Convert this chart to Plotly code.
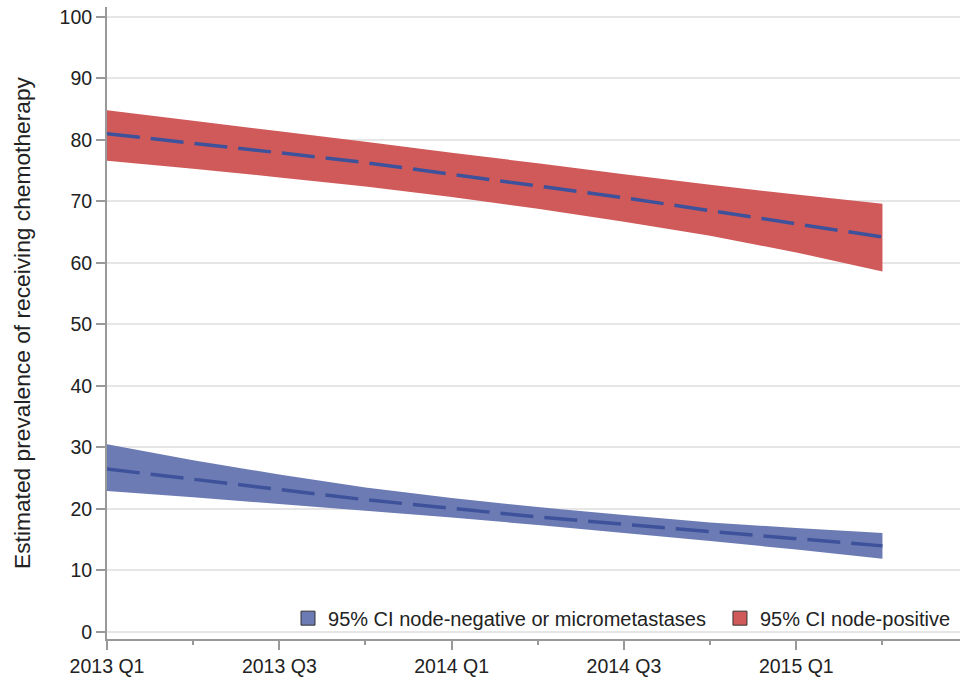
import plotly.graph_objects as go

# quarter index 0 = 2013 Q1 ... 9 = 2015 Q2
quarters = [0, 1, 2, 3, 4, 5, 6, 7, 8, 9]
tick_vals = [0, 2, 4, 6, 8]
tick_labels = ["2013 Q1", "2013 Q3", "2014 Q1", "2014 Q3", "2015 Q1"]

pos_upper = [84.8, 83.1, 81.4, 79.7, 77.9, 76.2, 74.4, 72.7, 71.1, 69.6]
pos_center = [81.0, 79.5, 77.9, 76.3, 74.4, 72.5, 70.6, 68.5, 66.4, 64.2]
pos_lower = [76.6, 75.3, 73.9, 72.4, 70.7, 68.8, 66.7, 64.4, 61.7, 58.6]

neg_upper = [30.5, 27.9, 25.6, 23.5, 21.8, 20.3, 19.0, 17.8, 16.9, 16.1]
neg_center = [26.5, 24.8, 23.1, 21.5, 20.1, 18.7, 17.5, 16.3, 15.1, 14.0]
neg_lower = [22.9, 21.9, 20.8, 19.7, 18.6, 17.4, 16.1, 14.8, 13.4, 11.9]

legend_names = ["95% CI node-negative or micrometastases", "95% CI node-positive"]
y_title = "Estimated prevalence of receiving chemotherapy"

RED = "rgb(208,90,90)"
BLUE = "rgb(108,123,179)"
LINE = "rgb(61,82,155)"
FONT = "Liberation Sans, Arial, sans-serif"

fig = go.Figure()

def band(upper, lower, color):
    return go.Scatter(
        x=quarters + quarters[::-1],
        y=upper + lower[::-1],
        fill="toself", fillcolor=color, mode="none",
        showlegend=False, hoverinfo="skip",
    )

fig.add_trace(band(pos_upper, pos_lower, RED))
fig.add_trace(band(neg_upper, neg_lower, BLUE))

for c in (pos_center, neg_center):
    fig.add_trace(go.Scatter(
        x=quarters, y=c, mode="lines",
        line=dict(color=LINE, width=3.5, dash="33px,11px"),
        showlegend=False, hoverinfo="skip",
    ))

for name, color, lg in zip(legend_names, (BLUE, RED), ("legend", "legend2")):
    fig.add_trace(go.Scatter(
        x=[None], y=[None], mode="markers", name=name, legend=lg,
        marker=dict(symbol="square", size=14, color=color,
                    line=dict(color="#333", width=1)),
    ))

legend_style = dict(
    orientation="h", y=0.033, yanchor="middle", xanchor="left",
    bgcolor="rgba(0,0,0,0)", font=dict(size=20, color="#222"),
    itemclick=False,
)

fig.update_layout(
    width=960, height=681,
    margin=dict(l=107, r=0, t=7, b=42),
    paper_bgcolor="white", plot_bgcolor="white",
    font=dict(family=FONT, size=19.5, color="#222"),
    legend=dict(x=0.2122, **legend_style),
    legend2=dict(x=0.7186, **legend_style),
)

fig.update_xaxes(
    range=[0, 9.9], tickmode="array", tickvals=tick_vals, ticktext=tick_labels,
    showline=True, linecolor="#999", linewidth=2,
    ticks="outside", ticklen=9, tickwidth=2, tickcolor="#999",
    showgrid=False, zeroline=False,
    minor=dict(dtick=1, tick0=0, ticks="outside", ticklen=4, tickwidth=2,
               tickcolor="#999", showgrid=False),
    tickfont=dict(size=19.5),
)

fig.update_yaxes(
    range=[-1.14, 101.6], tickmode="linear", tick0=0, dtick=10,
    showline=True, linecolor="#999", linewidth=2,
    ticks="outside", ticklen=9, tickwidth=2, tickcolor="#999",
    showgrid=True, gridcolor="#e6e6e6", gridwidth=1.5, zeroline=False,
    tickfont=dict(size=19.5),
    title=dict(text=y_title, font=dict(size=22.75), standoff=23),
)

fig.write_html("out.html", config={"displayModeBar": False},
               post_script="document.body.style.margin='0px';document.body.style.overflow='hidden';")
